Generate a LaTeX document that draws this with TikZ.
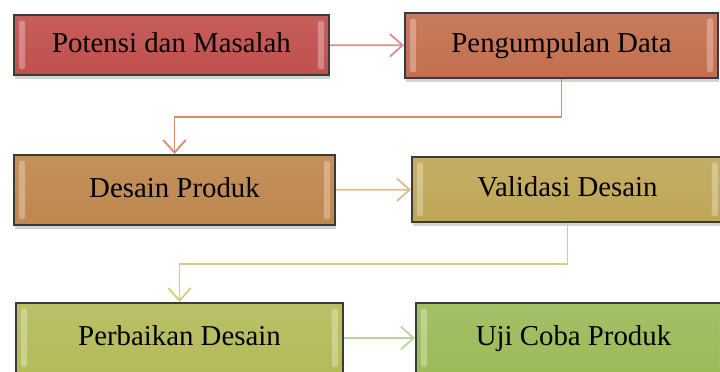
\documentclass[tikz,border=0pt]{standalone}
\usepackage{fontspec}
\setmainfont{Liberation Serif}
\usepackage{tikz}
\usetikzlibrary{arrows.meta,shadows}

\definecolor{boxline}{HTML}{3A3A3A}
\definecolor{cPotensi}{HTML}{C0504D}
\definecolor{cKumpul}{HTML}{C2704F}
\definecolor{cDesain}{HTML}{BE874E}
\definecolor{cValid}{HTML}{BFA657}
\definecolor{cPerbaik}{HTML}{B3BB5A}
\definecolor{cUji}{HTML}{9BBB59}
\definecolor{aPotensi}{HTML}{D98F8C}
\definecolor{aKumpul}{HTML}{D4906E}
\definecolor{aDesain}{HTML}{DDBE8E}
\definecolor{aValid}{HTML}{D3CD7E}
\definecolor{aPerbaik}{HTML}{BAD49A}

\tikzset{
  tahap/.style={draw=boxline, line width=1.4pt, top color=#1!92!white, bottom color=#1,
    drop shadow={shadow xshift=1pt, shadow yshift=-2.5pt, opacity=.35},
    font=\fontsize{20.5}{24}\selectfont, inner sep=0pt, text height=14pt, text depth=4pt,
    path picture={
      \fill[white, opacity=.3, rounded corners=2pt]
        ([shift={(3.5pt,-4pt)}]path picture bounding box.north west) rectangle
        ([shift={(8pt,4pt)}]path picture bounding box.south west);
      \fill[white, opacity=.3, rounded corners=2pt]
        ([shift={(-3.5pt,-4pt)}]path picture bounding box.north east) rectangle
        ([shift={(-8pt,4pt)}]path picture bounding box.south east);
    }},
  alur/.style={->, line width=1.3pt, draw=#1}
}

\begin{document}
\begin{tikzpicture}[x=0.025cm, y=-0.025cm, >={Straight Barb[length=9pt,width=16pt]}]
	\useasboundingbox (0,0) rectangle (720,372);
	\clip (0,0) rectangle (720,372);
	% baris 1
	\node[tahap=cPotensi, minimum width=7.875cm, minimum height=1.5cm] (potensi) at (171.5,45) {Potensi dan Masalah};
	\node[tahap=cKumpul, minimum width=7.825cm, minimum height=1.625cm] (kumpul) at (561.5,45.5) {Pengumpulan Data};
	% baris 2
	\node[tahap=cDesain, minimum width=8.025cm, minimum height=1.75cm] (desain) at (174.5,190) {Desain Produk};
	\node[tahap=cValid, minimum width=7.775cm, minimum height=1.625cm] (validasi) at (567.5,189.5) {Validasi Desain};
	% baris 3
	\node[tahap=cPerbaik, minimum width=8.175cm, minimum height=1.75cm] (perbaikan) at (179.5,338) {Perbaikan Desain};
	\node[tahap=cUji, minimum width=7.875cm, minimum height=1.75cm] (uji) at (573.5,338) {Uji Coba Produk};
	% panah
	\draw[alur=aPotensi] (potensi) -- (kumpul);
	\draw[alur=aKumpul] (kumpul.south) -- ++(0,38) -| (desain.north);
	\draw[alur=aDesain] (desain) -- (validasi);
	\draw[alur=aValid] (validasi.south) -- ++(0,41) -| (perbaikan.north);
	\draw[alur=aPerbaik] (perbaikan) -- (uji);
\end{tikzpicture}
\end{document}
